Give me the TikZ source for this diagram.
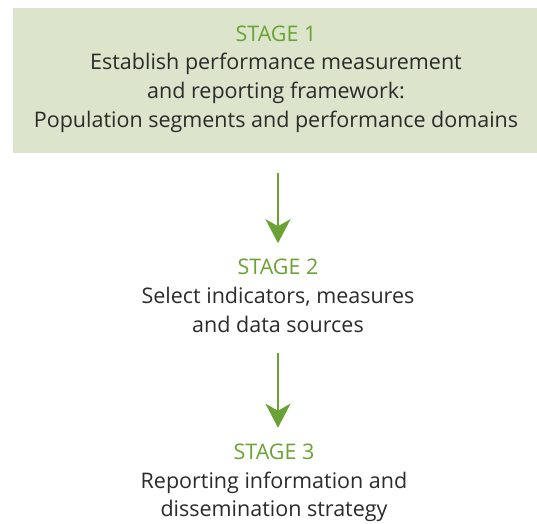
\documentclass[tikz,border=0pt]{standalone}
\usepackage{fontspec}
\setmainfont{Open Sans}
\usetikzlibrary{arrows.meta}

\definecolor{stagegreen}{HTML}{6AA334}
\definecolor{boxgreen}{HTML}{DCE5CC}
\definecolor{bodytext}{HTML}{2B2B2B}

\tikzset{
    stagetext/.style={align=center, text=bodytext, inner sep=0pt,
        font=\fontsize{21.5}{28.7}\selectfont},
    flow/.style={draw=stagegreen, line width=2.8pt,
        -{Stealth[length=24pt, width=25pt, inset=7pt]}}
}
\newcommand{\stagelabel}[1]{{\color{stagegreen}STAGE #1}}

\begin{document}
\begin{tikzpicture}[x=1pt, y=1pt]
    \useasboundingbox (0,0) rectangle (537,-523);

    % Stage 1 sits in a shaded box
    \fill[boxgreen] (13,-8) rectangle (537,-153);
    \node[stagetext] (stage1) at (276,-79)
        {\stagelabel{1}\\
         Establish performance measurement\\
         and reporting framework:\\
         Population segments and performance domains};

    % Stages 2 and 3 are plain text
    \node[stagetext] (stage2) at (278,-296)
        {\stagelabel{2}\\
         Select indicators, measures\\
         and data sources};

    \node[stagetext] (stage3) at (274,-483)
        {\stagelabel{3}\\
         Reporting information and\\
         dissemination strategy};

    % Arrows between the stages
    \coordinate (box1) at (278,-153);
    \draw[flow, shorten <=20pt, shorten >=16pt] (box1) -- (stage2.north -| box1);
    \draw[flow, shorten <=20pt, shorten >=16pt] (stage2.south -| box1) -- (stage3.north -| box1);

\end{tikzpicture}
\end{document}
